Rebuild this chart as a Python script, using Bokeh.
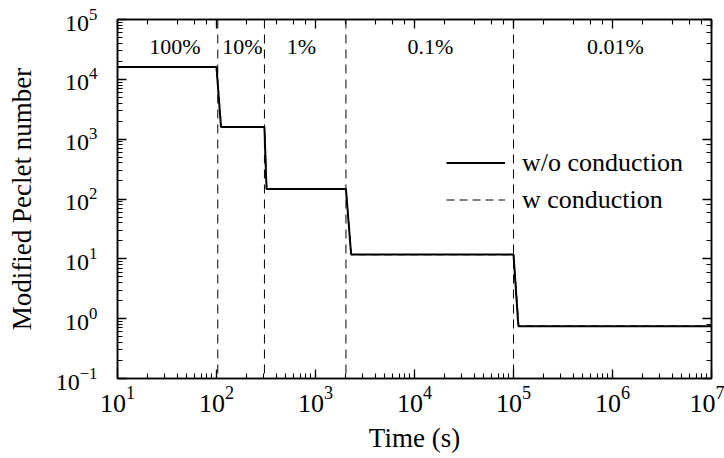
from bokeh.plotting import figure
from bokeh.models import LogAxis, Span, Label, Legend, LegendItem, Range1d
from bokeh.embed import file_html
from bokeh.resources import INLINE

# Data
t_wo = [10, 100, 111, 305, 320, 2030, 2290, 1.0e5, 1.12e5, 1e7]
pe_wo = [1.6e4, 1.6e4, 1.6e3, 1.6e3, 147, 147, 11.8, 11.8, 0.75, 0.75]
t_w = [10, 100, 112, 305, 322, 2030, 2300, 1.0e5, 1.13e5, 1e7]
pe_w = [1.6e4, 1.6e4, 1.6e3, 1.6e3, 147, 147, 11.8, 11.8, 0.75, 0.75]
switch_times = [103, 305, 2030, 1.0e5]
phase_labels = ["100%", "10%", "1%", "0.1%", "0.01%"]
phase_label_x = [38, 183, 720, 1.45e4, 1.07e6]
phase_label_y = 3.5e4

FONT = "Liberation Serif"

p = figure(width=724, height=458, x_axis_type="log", y_axis_type="log",
           x_range=Range1d(10, 1e7), y_range=Range1d(0.1, 1e5),
           output_backend="svg", toolbar_location=None,
           min_border_left=117, min_border_right=13, min_border_top=19, min_border_bottom=80)
p.xgrid.visible = False
p.ygrid.visible = False
p.outline_line_color = "black"
p.outline_line_width = 1.5
p.background_fill_color = "white"
p.border_fill_color = "white"

r_wo = p.line(t_wo, pe_wo, line_color="black", line_width=2)
r_w = p.line(t_w, pe_w, line_color="black", line_width=1.2, line_dash="8 5")

for t in switch_times:
    p.add_layout(Span(location=t, dimension="height", line_color="black",
                      line_width=1, line_dash="9 6"))

for txt, x in zip(phase_labels, phase_label_x):
    p.add_layout(Label(x=x, y=phase_label_y, text=txt, text_font=FONT,
                       text_font_size="22px", text_align="center",
                       text_baseline="middle", text_color="black"))

def style_axis(ax, labels=True):
    ax.axis_line_color = "black"
    ax.axis_line_width = 1.5
    ax.major_tick_in = 9
    ax.major_tick_out = 0
    ax.minor_tick_in = 5
    ax.minor_tick_out = 0
    ax.major_tick_line_width = 1.3
    ax.minor_tick_line_width = 1.1
    ax.major_label_text_font = FONT
    ax.major_label_text_font_size = "26px"
    ax.major_label_text_color = "black"
    ax.axis_label_text_font = FONT
    ax.axis_label_text_font_size = "27px"
    ax.axis_label_text_font_style = "normal"
    ax.axis_label_text_color = "black"
    if not labels:
        ax.major_label_text_font_size = "0px"
        ax.major_label_text_color = None

style_axis(p.xaxis[0])
style_axis(p.yaxis[0])
p.yaxis[0].major_label_text_font_size = "24px"
p.xaxis[0].axis_label = "Time (s)"
p.yaxis[0].axis_label = "Modified Peclet number"
p.xaxis[0].major_label_standoff = 8
p.xaxis[0].axis_label_standoff = 8
p.yaxis[0].major_label_standoff = 20
p.yaxis[0].axis_label_standoff = 16

top = LogAxis()
right = LogAxis()
style_axis(top, labels=False)
style_axis(right, labels=False)
p.add_layout(top, "above")
p.add_layout(right, "right")

legend = Legend(items=[LegendItem(label="w/o conduction", renderers=[r_wo]),
                       LegendItem(label="w conduction", renderers=[r_w])],
                location=(329, 162))
legend.background_fill_alpha = 0
legend.border_line_color = None
legend.label_text_font = FONT
legend.label_text_font_size = "26px"
legend.label_text_color = "black"
legend.glyph_width = 59
legend.glyph_height = 33
legend.label_height = 33
legend.spacing = 4
legend.padding = 0
legend.margin = 0
legend.label_standoff = 17
p.add_layout(legend, "center")

open("out.html", "w").write(file_html(p, INLINE))
